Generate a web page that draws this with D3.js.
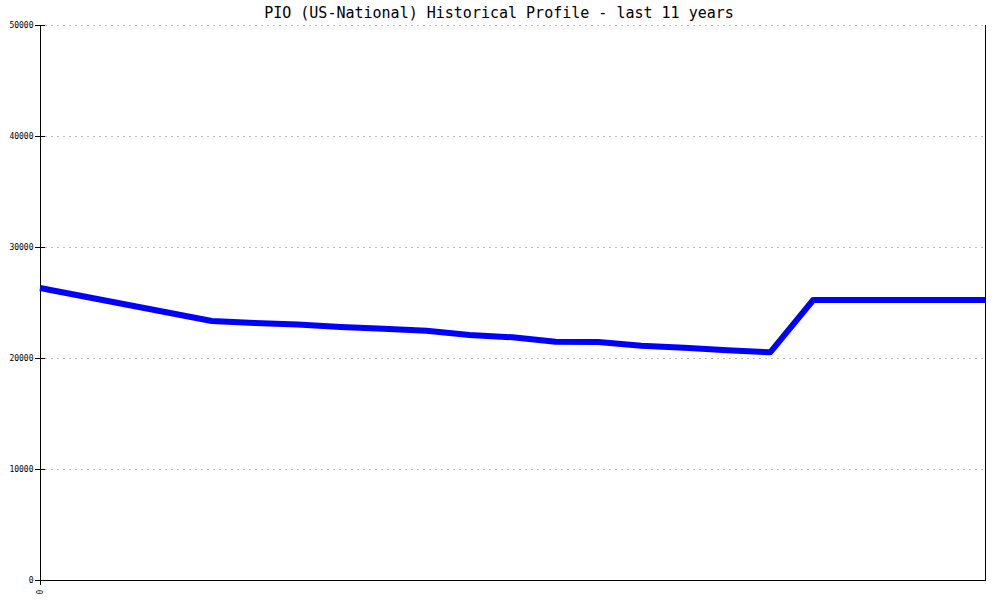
<!DOCTYPE html>
<html><head><meta charset="utf-8">
<script src="https://cdn.jsdelivr.net/npm/d3@7"></script>
<style>body{margin:0;background:#fff}</style>
</head><body>
<svg id="c" width="1000" height="600"></svg>
<script>
const title = "PIO (US-National) Historical Profile - last 11 years";
const yTicks = [0, 10000, 20000, 30000, 40000, 50000];
const xLabels = ["0"];
// semi-annual samples across 11 years
const periods = d3.range(23);
const values = [26306, 25559, 24820, 24072, 23333, 23153, 23018, 22793, 22640, 22459,
  22072, 21865, 21468, 21441, 21108, 20928, 20694, 20514, 25225, 25225, 25225, 25225, 25225];

const svg = d3.select("#c");
const x = d3.scaleLinear().domain([0, 22]).range([40, 985]);
const y = d3.scaleLinear().domain([0, 50000]).range([580, 25]);

// gridlines
svg.append("g").selectAll("line").data(yTicks.filter(d => d > 0)).join("line")
  .attr("x1", 45).attr("x2", 985)
  .attr("y1", d => y(d) + 0.5).attr("y2", d => y(d) + 0.5)
  .attr("stroke", "#bbbbbb").attr("stroke-dasharray", "2,4");

// y axis
const yAxis = d3.axisLeft(y).tickValues(yTicks).tickSize(0).tickPadding(7).tickFormat(d3.format("d"));
const gy = svg.append("g").attr("transform", "translate(40.5,0)").call(yAxis);
gy.select(".domain").remove();
gy.selectAll("text").attr("font-family", "DejaVu Sans Mono").attr("font-size", 8).attr("fill", "#000");
svg.append("g").selectAll("line").data(yTicks).join("line")
  .attr("x1", 35).attr("x2", 45).attr("y1", d => y(d) + 0.5).attr("y2", d => y(d) + 0.5)
  .attr("stroke", "#000");

// axes lines
svg.append("line").attr("x1", 40.5).attr("x2", 40.5).attr("y1", 25).attr("y2", 585).attr("stroke", "#000");
svg.append("line").attr("x1", 985.5).attr("x2", 985.5).attr("y1", 25).attr("y2", 580).attr("stroke", "#000");
svg.append("line").attr("x1", 40).attr("x2", 986).attr("y1", 580.5).attr("y2", 580.5).attr("stroke", "#000");

// x label
svg.append("text").text(xLabels[0])
  .attr("transform", `translate(${x(0) + 3},592) rotate(-90)`)
  .attr("text-anchor", "middle")
  .attr("font-family", "DejaVu Sans Mono").attr("font-size", 8);

// line
const line = d3.line().x((d, i) => x(periods[i])).y(d => y(d));
svg.append("path").datum(values).attr("d", line)
  .attr("fill", "none").attr("stroke", "#0000ff").attr("stroke-width", 6)
  .attr("stroke-linejoin", "round");

// title
svg.append("text").text(title).attr("x", 499).attr("y", 18)
  .attr("text-anchor", "middle").attr("font-family", "DejaVu Sans Mono")
  .attr("font-size", 15).attr("fill", "#000");
</script>
</body></html>
